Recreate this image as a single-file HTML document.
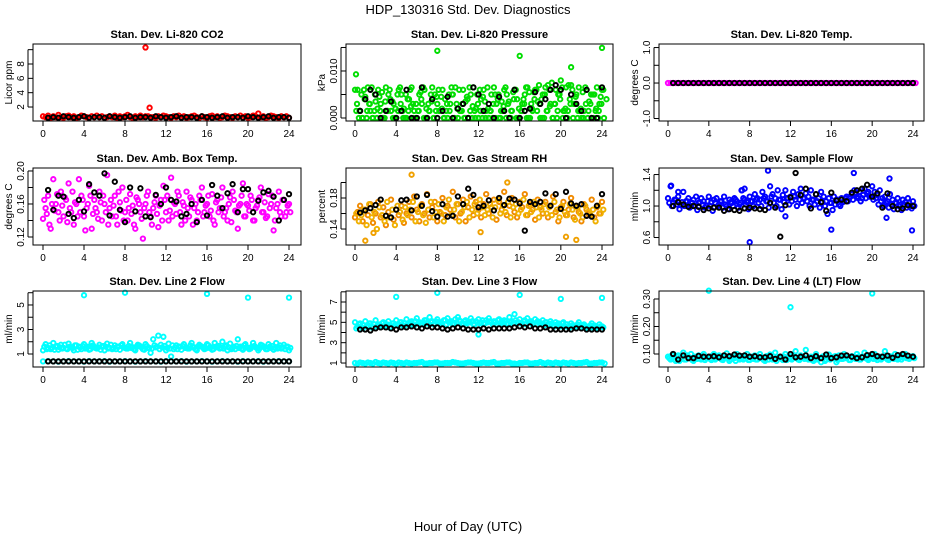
<!DOCTYPE html>
<html><head><meta charset="utf-8"><style>
html,body{margin:0;padding:0;background:#fff;}
svg{display:block;font-family:"Liberation Sans",sans-serif;}
</style></head><body>
<svg id="fig" width="936" height="540" viewBox="0 0 936 540">
<text x="468" y="14" text-anchor="middle" font-size="13">HDP_130316  Std. Dev. Diagnostics</text>
<text x="468" y="531" text-anchor="middle" font-size="13">Hour of Day (UTC)</text>
</svg>
<script>
const xTicks=[0,4,8,12,16,20,24];
const co2Red=[0.7,0.6,0.8,0.5,0.7,0.6,0.9,0.6,0.5,0.7,0.8,0.6,0.7,0.5,0.6,0.8,0.7,0.6,0.5,0.7,0.6,0.8,0.6,0.7,0.5,0.6,0.7,0.6,0.8,0.5,0.7,0.6,0.7,0.9,0.6,0.5,0.7,0.6,0.8,0.6,0.7,0.7,0.6,0.6,0.5,0.7,0.6,0.8,0.7,0.6,0.5,0.7,0.6,0.8,0.6,0.7,0.5,0.6,0.7,0.8,0.6,0.5,0.7,0.6,0.5,0.7,0.8,0.6,0.7,0.5,0.6,0.8,0.7,0.6,0.5,0.7,0.6,0.8,0.6,0.7,0.5,0.6,0.8,0.7,1.1,0.6,0.7,0.5,0.6,0.8,0.7,0.6,0.5,0.7,0.6,0.7,0.5];
const co2OutT=[10,10.4];
const co2OutV=[10.3,1.9];
const co2Blk=[0.5,0.6,0.5,0.7,0.6,0.5,0.6,0.7,0.5,0.6,0.6,0.5,0.7,0.6,0.5,0.6,0.7,0.5,0.6,0.6,0.5,0.7,0.6,0.5,0.6,0.7,0.5,0.6,0.6,0.5,0.7,0.6,0.5,0.6,0.7,0.5,0.6,0.6,0.5,0.7,0.6,0.5,0.6,0.7,0.5,0.6,0.6,0.5];
const presA=[6,6,1.5,0,4.5,6.5,1.5,0,3.5,6,3,0,6.5,5,1.5,3,0,6,5,2,0,4,6.5,1.5,0,5,3,6,0,1.5,6.5,5,3,1.5,6,4,0,3,5,6.5,0,1.5,6,3.5,0,5,6.5,2,0,4,6,1.5,0,5,6.5,3,0,3.5,6,5,0,1.5,6,4,0,3,5,6.5,0,1.5,6,3.5,0,5,6.5,7,3,0,6,5,8,1.5,6.5,7,7,3,5,6.5,0,1.5,6,3.5,0,5,6.5,3,6];
const presB=[1.5,0,5,6,0,3,6.5,1.5,0,4.5,5.5,0,1.5,6,3.5,0,5,6.5,1.5,0,4,6,3,0,1.5,5.5,6.5,0,3,5,0,1.5,6,4.5,0,1.5,5,6.5,0,3,6,1.5,0,4.5,6.5,0,1.5,5,6,0,3.5,6.5,1.5,0,5,4,0,1.5,6.5,3,0,5.5,6,0,1.5,4,6.5,0,3,5.5,6,7,4,0,1.5,6,7.5,3,0,5,6.5,1.5,0,4,6,3,0,1.5,5.5,6.5,0,3,5,1.5,0,4.5,6];
const presC=[3,1.5,0,4,1.5,3,0,5,2,1.5,0,3.5,1.5,4,0,2,1.5,3,0,5,1.5,2.5,0,3,1.5,4,0,2,1.5,3.5,0,4.5,1.5,2,0,3,1.5,5,0,2,1.5,3,0,4,1.5,2.5,0,3,1.5,4.5,0,2,1.5,3,0,5,1.5,2.5,0,3.5,1.5,4,0,2,1.5,3,0,5.5,2,4,1.5,3,0,5,1.5,2.5,0,3,1.5,4,0,2,1.5,3,0,4.5,1.5,2,0,3,1.5,5,0,2,1.5,3,0,4];
const presOutT=[0.1,8,16,21,24];
const presOutV=[9.3,14.3,13.2,10.8,14.9];
const presBlk=[1.5,4,6,5,0,1.5,3.5,0,1.5,6,0,0,6.5,0,4,0,1.5,4.5,0,2,3,0,6.5,5,1.5,3,0,4.5,1.5,0,6,0,1.5,2,5.5,3,4,6,7,6,0,5,3,1.5,6,0,0,6.5];
const tempA=[0,0,0,0,0,0,0,0,0,0,0,0,0,0,0,0,0,0,0,0,0,0,0,0,0,0,0,0,0,0,0,0,0,0,0,0,0,0,0,0,0,0,0,0,0,0,0,0,0];
const tempB=[0,0,0,0,0,0,0,0,0,0,0,0,0,0,0,0,0,0,0,0,0,0,0,0,0,0,0,0,0,0,0,0,0,0,0,0,0,0,0,0,0,0,0,0,0,0,0,0,0];
const tempBlk=[0,0,0,0,0,0,0,0,0,0,0,0,0,0,0,0,0,0,0,0,0,0,0,0,0,0,0,0,0,0,0,0,0,0,0,0,0,0,0,0,0,0,0,0,0,0,0,0];
const ambA=[0.142,0.155,0.17,0.13,0.19,0.16,0.15,0.175,0.145,0.165,0.185,0.15,0.135,0.16,0.19,0.17,0.145,0.155,0.182,0.13,0.165,0.15,0.175,0.14,0.16,0.195,0.155,0.145,0.17,0.135,0.162,0.18,0.15,0.14,0.172,0.158,0.13,0.165,0.15,0.118,0.16,0.175,0.145,0.155,0.17,0.132,0.165,0.182,0.15,0.14,0.192,0.162,0.148,0.17,0.135,0.158,0.175,0.145,0.165,0.155,0.14,0.17,0.18,0.15,0.16,0.145,0.172,0.135,0.165,0.155,0.18,0.15,0.14,0.168,0.175,0.152,0.13,0.16,0.185,0.145,0.158,0.17,0.14,0.155,0.165,0.18,0.15,0.143,0.172,0.16,0.128,0.155,0.175,0.145,0.165,0.15,0.16];
const ambB=[0.165,0.148,0.135,0.16,0.152,0.172,0.14,0.158,0.168,0.138,0.155,0.175,0.162,0.145,0.15,0.165,0.128,0.16,0.17,0.148,0.155,0.142,0.162,0.17,0.15,0.135,0.165,0.158,0.145,0.175,0.152,0.14,0.165,0.155,0.148,0.135,0.168,0.16,0.142,0.155,0.17,0.15,0.135,0.162,0.148,0.158,0.14,0.165,0.17,0.152,0.145,0.16,0.175,0.15,0.162,0.14,0.155,0.168,0.135,0.16,0.15,0.165,0.145,0.158,0.17,0.152,0.14,0.162,0.15,0.168,0.145,0.155,0.16,0.138,0.165,0.15,0.158,0.17,0.145,0.16,0.152,0.165,0.14,0.158,0.168,0.15,0.162,0.145,0.155,0.17,0.14,0.16,0.15,0.165,0.145,0.158,0.15];
const ambBlk=[0.177,0.153,0.17,0.169,0.148,0.143,0.165,0.151,0.184,0.174,0.17,0.197,0.146,0.187,0.153,0.138,0.18,0.151,0.179,0.145,0.144,0.171,0.16,0.18,0.165,0.163,0.145,0.148,0.16,0.138,0.165,0.146,0.183,0.17,0.155,0.173,0.184,0.15,0.178,0.178,0.15,0.164,0.174,0.176,0.169,0.14,0.165,0.172];
const rhA=[0.155,0.162,0.17,0.15,0.165,0.158,0.172,0.148,0.16,0.175,0.155,0.168,0.145,0.162,0.178,0.152,0.165,0.158,0.17,0.148,0.16,0.175,0.155,0.182,0.165,0.15,0.172,0.16,0.185,0.155,0.168,0.175,0.15,0.162,0.18,0.158,0.17,0.165,0.188,0.155,0.172,0.16,0.178,0.15,0.168,0.182,0.158,0.175,0.165,0.155,0.172,0.185,0.16,0.168,0.178,0.152,0.175,0.165,0.188,0.158,0.17,0.18,0.162,0.155,0.175,0.168,0.185,0.158,0.172,0.165,0.152,0.178,0.168,0.16,0.175,0.155,0.17,0.182,0.162,0.15,0.168,0.175,0.158,0.165,0.18,0.155,0.17,0.162,0.15,0.172,0.165,0.158,0.178,0.155,0.168,0.16,0.175];
const rhB=[0.16,0.15,0.158,0.165,0.145,0.172,0.155,0.162,0.14,0.168,0.158,0.15,0.175,0.155,0.165,0.145,0.17,0.162,0.152,0.168,0.158,0.165,0.175,0.15,0.162,0.17,0.158,0.148,0.165,0.175,0.155,0.162,0.172,0.16,0.15,0.168,0.178,0.158,0.165,0.172,0.15,0.162,0.168,0.175,0.155,0.165,0.172,0.16,0.178,0.168,0.158,0.165,0.172,0.155,0.168,0.178,0.16,0.17,0.162,0.175,0.155,0.168,0.172,0.16,0.165,0.178,0.158,0.17,0.162,0.175,0.168,0.155,0.165,0.172,0.16,0.168,0.158,0.175,0.165,0.155,0.17,0.162,0.158,0.172,0.165,0.152,0.168,0.16,0.155,0.17,0.162,0.158,0.165,0.15,0.17,0.16,0.165];
const rhOutT=[1,5.5,14.8,21.5,20.5,1.8,12.2];
const rhOutV=[0.125,0.21,0.2,0.126,0.13,0.135,0.136];
const rhBlk=[0.161,0.164,0.167,0.171,0.178,0.157,0.155,0.165,0.177,0.178,0.164,0.182,0.17,0.184,0.163,0.156,0.172,0.156,0.157,0.182,0.172,0.192,0.184,0.168,0.17,0.177,0.164,0.18,0.171,0.179,0.178,0.173,0.138,0.175,0.172,0.175,0.186,0.17,0.185,0.166,0.188,0.173,0.17,0.172,0.157,0.156,0.17,0.185];
const flowA=[1.1,1.25,1.05,1.08,1.12,1.02,1.18,1.06,1.1,1.0,1.08,1.12,1.04,1.1,1.06,1.0,1.12,1.05,1.08,1.1,1.02,1.06,1.12,1.0,1.08,1.04,1.1,1.06,1.02,1.2,1.08,1.05,1.12,1.06,1.15,1.1,1.08,1.18,1.12,1.06,1.25,1.15,1.1,1.2,1.08,1.14,1.2,1.1,1.12,1.18,1.08,1.15,1.22,1.1,1.16,1.12,1.2,1.08,1.15,1.1,1.18,1.12,1.06,1.1,1.04,1.12,1.08,1.02,1.1,1.06,1.12,1.1,1.15,1.2,1.12,1.18,1.1,1.22,1.16,1.12,1.25,1.18,1.14,1.2,1.1,1.12,1.06,1.15,1.08,1.04,1.1,1.02,1.08,1.05,1.1,1.0,1.06];
const flowB=[1.04,1.0,1.08,1.02,0.96,1.05,1.0,1.06,0.98,1.04,1.0,0.95,1.05,1.02,0.98,1.06,1.0,0.94,1.04,1.0,1.06,0.98,1.02,0.96,1.05,1.0,1.08,0.98,1.04,1.1,1.02,0.96,1.06,1.0,1.08,1.04,1.0,1.1,1.06,0.98,1.12,1.04,1.0,1.08,0.96,1.05,1.1,1.02,1.06,1.12,1.0,1.08,1.04,1.1,1.06,1.0,1.08,1.02,1.06,0.98,1.05,1.0,0.9,1.04,0.95,1.02,1.08,1.0,1.05,1.1,1.06,1.12,1.08,1.15,1.1,1.06,1.14,1.1,1.18,1.12,1.08,1.1,1.02,1.06,1.0,1.04,0.98,1.02,0.96,1.04,1.0,0.95,1.02,0.98,1.04,0.97,1.0];
const flowOutT=[0.3,9.8,7.2,8,11.5,16,18.2,21.7,21.4,23.9,7.5,1];
const flowOutV=[1.26,1.45,1.2,0.54,0.87,0.7,1.42,1.35,0.85,0.69,1.22,1.18];
const flowBlk=[1.0,1.05,1.02,0.99,1.0,0.99,0.95,0.97,0.98,0.98,0.94,0.96,0.95,0.94,0.97,0.98,0.97,0.96,0.95,1.04,0.98,0.61,1.01,1.11,1.42,1.14,1.22,0.97,1.15,1.05,0.94,1.17,1.07,1.08,1.06,1.17,1.2,1.22,1.27,1.12,1.16,0.98,1.16,1.0,0.96,0.97,1.01,1.0];
const l2A=[1.3,1.8,1.5,1.4,1.9,1.6,1.35,1.75,1.5,1.45,1.85,1.55,1.3,1.7,1.6,1.4,1.8,1.5,1.35,1.9,1.55,1.45,1.75,1.6,1.3,1.85,1.5,1.4,1.7,1.6,1.35,1.8,1.5,1.45,1.9,1.55,1.3,1.75,1.6,1.4,1.8,1.5,1.1,2.2,1.55,2.5,1.75,2.4,1.3,1.85,0.8,1.4,1.7,1.6,1.35,1.8,1.5,1.45,1.9,1.55,1.3,1.75,1.6,1.4,1.8,1.5,1.35,1.9,1.55,1.45,2.0,1.6,1.3,1.85,1.5,1.4,2.2,1.6,1.35,1.8,1.5,1.45,1.9,1.55,1.3,1.75,1.6,1.4,1.8,1.5,1.35,1.9,1.55,1.45,1.75,1.6,1.3];
const l2B=[1.6,1.4,1.7,1.5,1.35,1.65,1.55,1.45,1.75,1.4,1.6,1.5,1.7,1.35,1.55,1.65,1.45,1.6,1.4,1.7,1.5,1.55,1.35,1.65,1.6,1.45,1.75,1.5,1.4,1.6,1.7,1.55,1.45,1.65,1.5,1.4,1.6,1.7,1.55,1.35,1.65,1.5,1.45,1.7,1.6,1.4,1.55,1.65,1.5,1.45,1.7,1.55,1.4,1.6,1.65,1.5,1.45,1.7,1.55,1.4,1.6,1.65,1.5,1.45,1.7,1.55,1.4,1.6,1.65,1.5,1.45,1.7,1.55,1.4,1.6,1.65,1.5,1.45,1.7,1.55,1.4,1.6,1.65,1.5,1.45,1.7,1.55,1.4,1.6,1.65,1.5,1.45,1.7,1.55,1.4,1.6,1.5];
const l2Low=[0.4,0.42,0.4,0.38,0.4,0.42,0.4,0.4,0.38,0.42,0.4,0.4,0.42,0.38,0.4,0.4,0.42,0.4,0.38,0.4,0.42,0.4,0.4,0.38,0.42,0.4,0.4,0.42,0.38,0.4,0.4,0.42,0.4,0.38,0.4,0.42,0.4,0.4,0.38,0.42,0.4,0.4,0.42,0.38,0.4,0.4,0.42,0.4,0.4];
const l2OutT=[4,8,16,20,24];
const l2OutV=[5.8,6.0,5.9,5.6,5.6];
const l2Blk=[0.4,0.4,0.4,0.4,0.4,0.4,0.4,0.4,0.4,0.4,0.4,0.4,0.4,0.4,0.4,0.4,0.4,0.4,0.4,0.4,0.4,0.4,0.4,0.4,0.4,0.4,0.4,0.4,0.4,0.4,0.4,0.4,0.4,0.4,0.4,0.4,0.4,0.4,0.4,0.4,0.4,0.4,0.4,0.4,0.4,0.4,0.4,0.4];
const l3A=[5.0,4.6,4.9,4.4,5.1,4.7,4.9,4.5,5.2,4.8,4.6,5.0,4.7,5.1,4.5,4.9,5.2,4.8,5.0,4.6,5.3,4.9,5.1,4.7,5.4,5.0,4.8,5.2,4.9,5.5,5.1,4.8,5.3,5.0,4.9,5.2,5.4,5.0,4.8,5.3,5.5,5.1,4.9,5.2,5.0,5.4,4.8,5.1,5.3,5.0,4.9,5.2,5.4,5.0,5.1,4.8,5.3,5.0,5.2,4.9,5.5,5.1,5.8,5.0,5.3,4.9,5.2,5.4,5.0,4.8,5.3,5.1,4.9,5.2,5.0,4.8,5.1,4.7,5.0,4.9,4.6,5.0,4.8,4.5,4.9,4.7,4.6,5.0,4.5,4.8,4.6,4.4,4.9,4.7,4.5,4.8,4.6];
const l3B=[4.4,4.8,4.5,4.7,4.6,4.9,4.5,4.8,4.6,4.7,4.9,4.6,4.8,4.5,4.9,4.7,4.8,5.0,4.7,4.9,4.8,5.0,4.7,5.1,4.9,4.8,5.0,5.2,4.9,5.0,4.8,5.1,5.0,4.9,5.2,4.8,5.0,5.1,4.9,5.0,5.2,4.8,5.1,4.9,5.0,5.1,4.8,5.0,4.9,5.2,4.9,5.0,5.1,4.8,5.0,5.2,4.9,5.0,5.1,4.8,5.0,4.9,5.2,5.0,4.9,5.1,4.8,5.0,5.1,4.9,4.8,5.0,4.9,4.7,5.0,4.8,4.9,4.6,4.8,4.7,4.9,4.6,4.8,4.5,4.7,4.6,4.8,4.5,4.7,4.6,4.4,4.7,4.5,4.6,4.4,4.6,4.5];
const l3LowA=[1.0,1.05,0.95,1.0,1.1,0.95,1.0,1.05,0.9,1.0,1.05,0.95,1.0,1.1,0.95,1.0,1.05,0.95,1.0,1.1,1.0,0.95,1.05,1.0,0.95,1.05,1.0,1.1,0.95,1.0,1.05,0.95,1.0,1.05,0.95,1.0,1.1,0.95,1.0,1.05,0.95,1.0,1.05,0.95,1.0,1.1,0.95,1.0,1.05];
const l3LowB=[0.95,1.0,1.05,0.95,1.0,1.05,0.95,1.0,1.05,0.95,1.0,1.0,1.05,0.95,1.0,1.05,0.95,1.0,1.0,1.05,0.95,1.0,1.05,0.95,1.0,1.0,1.05,0.95,1.0,1.05,0.95,0.9,1.0,1.05,0.95,1.0,1.0,1.05,0.95,1.0,1.05,0.95,1.0,1.0,1.05,0.95,1.0,1.05,0.95];
const l3OutT=[4,8,16,20,24,12];
const l3OutV=[7.5,7.9,7.7,7.3,7.4,3.8];
const l3Blk=[4.3,4.3,4.2,4.4,4.5,4.5,4.4,4.3,4.5,4.5,4.6,4.5,4.4,4.6,4.5,4.5,4.4,4.3,4.4,4.5,4.4,4.3,4.3,4.3,4.4,4.3,4.4,4.4,4.4,4.4,4.5,4.6,4.5,4.6,4.4,4.4,4.5,4.3,4.3,4.3,4.3,4.3,4.4,4.4,4.3,4.3,4.3,4.3];
const l4A=[0.09,0.08,0.1,0.075,0.095,0.085,0.105,0.08,0.09,0.1,0.075,0.088,0.095,0.08,0.1,0.085,0.09,0.078,0.1,0.085,0.095,0.08,0.088,0.102,0.075,0.09,0.085,0.1,0.08,0.092,0.085,0.1,0.078,0.09,0.095,0.08,0.1,0.085,0.075,0.09,0.098,0.08,0.105,0.085,0.09,0.078,0.1,0.082,0.092,0.085,0.11,0.08,0.095,0.088,0.115,0.08,0.09,0.075,0.1,0.085,0.07,0.092,0.08,0.098,0.085,0.09,0.07,0.095,0.082,0.1,0.088,0.078,0.092,0.085,0.1,0.08,0.09,0.105,0.082,0.095,0.085,0.1,0.078,0.09,0.085,0.11,0.08,0.092,0.085,0.1,0.08,0.095,0.088,0.1,0.085,0.09,0.092];
const l4B=[0.085,0.095,0.08,0.09,0.075,0.088,0.08,0.095,0.085,0.078,0.09,0.082,0.085,0.092,0.078,0.088,0.082,0.095,0.08,0.09,0.085,0.078,0.092,0.085,0.08,0.088,0.075,0.09,0.085,0.08,0.092,0.078,0.088,0.082,0.08,0.09,0.085,0.078,0.092,0.08,0.085,0.09,0.075,0.088,0.082,0.09,0.078,0.085,0.08,0.092,0.085,0.078,0.09,0.082,0.085,0.088,0.078,0.092,0.08,0.085,0.09,0.075,0.088,0.08,0.085,0.092,0.078,0.088,0.082,0.085,0.09,0.078,0.085,0.082,0.09,0.08,0.088,0.085,0.078,0.092,0.082,0.085,0.09,0.08,0.088,0.085,0.078,0.09,0.082,0.088,0.085,0.08,0.09,0.085,0.082,0.088,0.085];
const l4OutT=[4,12,20];
const l4OutV=[0.33,0.27,0.32];
const l4Blk=[0.1,0.08,0.095,0.085,0.085,0.093,0.09,0.09,0.092,0.088,0.095,0.092,0.098,0.094,0.095,0.09,0.092,0.088,0.088,0.092,0.082,0.09,0.08,0.1,0.088,0.09,0.095,0.085,0.092,0.085,0.098,0.085,0.088,0.094,0.095,0.09,0.085,0.088,0.096,0.1,0.092,0.09,0.094,0.086,0.096,0.1,0.094,0.09];

const NS='http://www.w3.org/2000/svg';
const svg=document.getElementById('fig');
const cols=[[33,301],[346,613],[659,924]];
const rows=[[44,121],[168,245],[291,367]];
function mk(tag,attrs,parent){const e=document.createElementNS(NS,tag);for(const k in attrs)e.setAttribute(k,attrs[k]);(parent||svg).appendChild(e);return e;}
function ser(v,t0,step,color){return {v:v,t0:t0,step:step,color:color};}
function serT(t,v,color){return {v:v,t:t,color:color};}

const panels=[
 {name:'co2',title:'Stan. Dev. Li-820 CO2',ylab:'Licor ppm',r:0,c:0,ylim:[0.05,10.79],ticks:[2,4,6,8,10],labels:{2:'2',4:'4',6:'6',8:'8'},
  series:[ser(co2Red,0,0.25,'#ff0000'),serT(co2OutT,co2OutV,'#ff0000'),ser(co2Blk,0.5,0.5,'#000')]},
 {name:'pressure',title:'Stan. Dev. Li-820 Pressure',ylab:'kPa',r:0,c:1,ylim:[-0.64,15.74],ticks:[0,5,10,15],labels:{0:'0.000',10:'0.010'},
  series:[ser(presC,0.19,0.25,'#00dd00'),ser(presA,0,0.25,'#00dd00'),ser(presB,0.125,0.25,'#00dd00'),serT(presOutT,presOutV,'#00dd00'),ser(presBlk,0.5,0.5,'#000')]},
 {name:'li820-temp',title:'Stan. Dev. Li-820 Temp.',ylab:'degrees C',r:0,c:2,ylim:[-1.07,1.10],ticks:[-1,-0.5,0,0.5,1],labels:{'-1':'-1.0','0':'0.0','1':'1.0'},
  series:[ser(tempA,0,0.5,'#ff00ff'),ser(tempB,0.25,0.5,'#ff00ff'),ser(tempBlk,0.5,0.5,'#000')]},
 {name:'amb-box-temp',title:'Stan. Dev. Amb. Box Temp.',ylab:'degrees C',r:1,c:0,ylim:[0.1103,0.2036],ticks:[0.12,0.14,0.16,0.18,0.2],labels:{0.12:'0.12',0.16:'0.16',0.2:'0.20'},
  series:[ser(ambA,0,0.25,'#ff00ff'),ser(ambB,0.125,0.25,'#ff00ff'),ser(ambBlk,0.5,0.5,'#000')]},
 {name:'gas-stream-rh',title:'Stan. Dev. Gas Stream RH',ylab:'percent',r:1,c:1,ylim:[0.1194,0.2187],ticks:[0.14,0.16,0.18,0.2],labels:{0.14:'0.14',0.18:'0.18'},
  series:[ser(rhA,0,0.25,'#f08a00'),ser(rhB,0.125,0.25,'#f0b000'),serT(rhOutT,rhOutV,'#f0a000'),ser(rhBlk,0.5,0.5,'#000')]},
 {name:'sample-flow',title:'Stan. Dev. Sample Flow',ylab:'ml/min',r:1,c:2,ylim:[0.505,1.483],ticks:[0.6,0.8,1.0,1.2,1.4],labels:{0.6:'0.6',1:'1.0',1.4:'1.4'},
  series:[ser(flowA,0,0.25,'#0000ff'),ser(flowB,0.125,0.25,'#0000ff'),serT(flowOutT,flowOutV,'#0000ff'),ser(flowBlk,0.5,0.5,'#000')]},
 {name:'line2-flow',title:'Stan. Dev. Line 2 Flow',ylab:'ml/min',r:2,c:0,ylim:[-0.06,6.14],ticks:[1,2,3,4,5,6],labels:{1:'1',3:'3',5:'5'},
  series:[ser(l2A,0,0.25,'#00ffff'),ser(l2B,0.125,0.25,'#00ffff'),ser(l2Low,0,0.5,'#00ffff'),serT(l2OutT,l2OutV,'#00ffff'),ser(l2Blk,0.5,0.5,'#000')]},
 {name:'line3-flow',title:'Stan. Dev. Line 3 Flow',ylab:'ml/min',r:2,c:1,ylim:[0.61,8.08],ticks:[1,2,3,4,5,6,7,8],labels:{1:'1',3:'3',5:'5',7:'7'},
  series:[ser(l3A,0,0.25,'#00ffff'),ser(l3B,0.125,0.25,'#00ffff'),ser(l3LowA,0,0.5,'#00ffff'),ser(l3LowB,0.25,0.5,'#00ffff'),serT(l3OutT,l3OutV,'#00ffff'),ser(l3Blk,0.5,0.5,'#000')]},
 {name:'line4-flow',title:'Stan. Dev. Line 4 (LT) Flow',ylab:'ml/min',r:2,c:2,ylim:[0.0527,0.329],ticks:[0.1,0.15,0.2,0.25,0.3],labels:{0.1:'0.10',0.2:'0.20',0.3:'0.30'},
  series:[ser(l4A,0,0.25,'#00ffff'),ser(l4B,0.125,0.25,'#00ffff'),serT(l4OutT,l4OutV,'#00ffff'),ser(l4Blk,0.5,0.5,'#000')]}
];

panels.forEach(p=>{
  const [x0,x1]=cols[p.c],[y0,y1]=rows[p.r];
  const X0=cols[p.c][0]+(p.c===0?10:9), X24=cols[p.c][1]-(p.c===0?12:11);
  const xs=t=>X0+(X24-X0)*t/24;
  const ys=v=>y1-(v-p.ylim[0])/(p.ylim[1]-p.ylim[0])*(y1-y0);
  const g=mk('g',{});
  
  
  const tt=mk('text',{x:(x0+x1)/2,y:y0-6,'text-anchor':'middle','font-size':'11','font-weight':'bold'},g);
  tt.textContent=p.title;
  
  
  const yl=mk('text',{x:0,y:0,'text-anchor':'middle','font-size':'10',transform:`translate(${x0-21},${(y0+y1)/2}) rotate(-90)`},g);
  yl.textContent=p.ylab;
  
  
  const pg=mk('g',{fill:'none','stroke-width':'1.9'},g);
  
  
  p.series.forEach(s=>{
    s.v.forEach((v,i)=>{
      const t=s.t?s.t[i]:s.t0+i*s.step;
      const c=mk('circle',{cx:xs(t).toFixed(1),cy:ys(v).toFixed(1),r:'2.2',stroke:s.color},pg);
      
      
    });
  });
  const box=mk('rect',{x:x0,y:y0,width:x1-x0,height:y1-y0,fill:'none',stroke:'#000','stroke-width':'1'},g);
  
  
  xTicks.forEach(t=>{
    mk('line',{x1:xs(t),x2:xs(t),y1:y1,y2:y1+5,stroke:'#000'},g);
    const lb=mk('text',{x:xs(t),y:y1+16,'text-anchor':'middle','font-size':'10'},g);
    lb.textContent=String(t);
    
    
  });
  mk('line',{x1:x0-5,x2:x0-5,y1:ys(p.ticks[0]),y2:ys(p.ticks[p.ticks.length-1]),stroke:'#000'},g);
  p.ticks.forEach(v=>{
    const y=ys(v);
    mk('line',{x1:x0-5,x2:x0,y1:y,y2:y,stroke:'#000'},g);
    const key=Object.keys(p.labels).find(k=>Math.abs(parseFloat(k)-v)<1e-9);
    if(key!==undefined){
      const lb=mk('text',{x:0,y:0,'text-anchor':'middle','font-size':'10',transform:`translate(${x0-9},${y}) rotate(-90)`},g);
      lb.textContent=p.labels[key];
      
      
    }
  });
});
</script>
</body></html>
